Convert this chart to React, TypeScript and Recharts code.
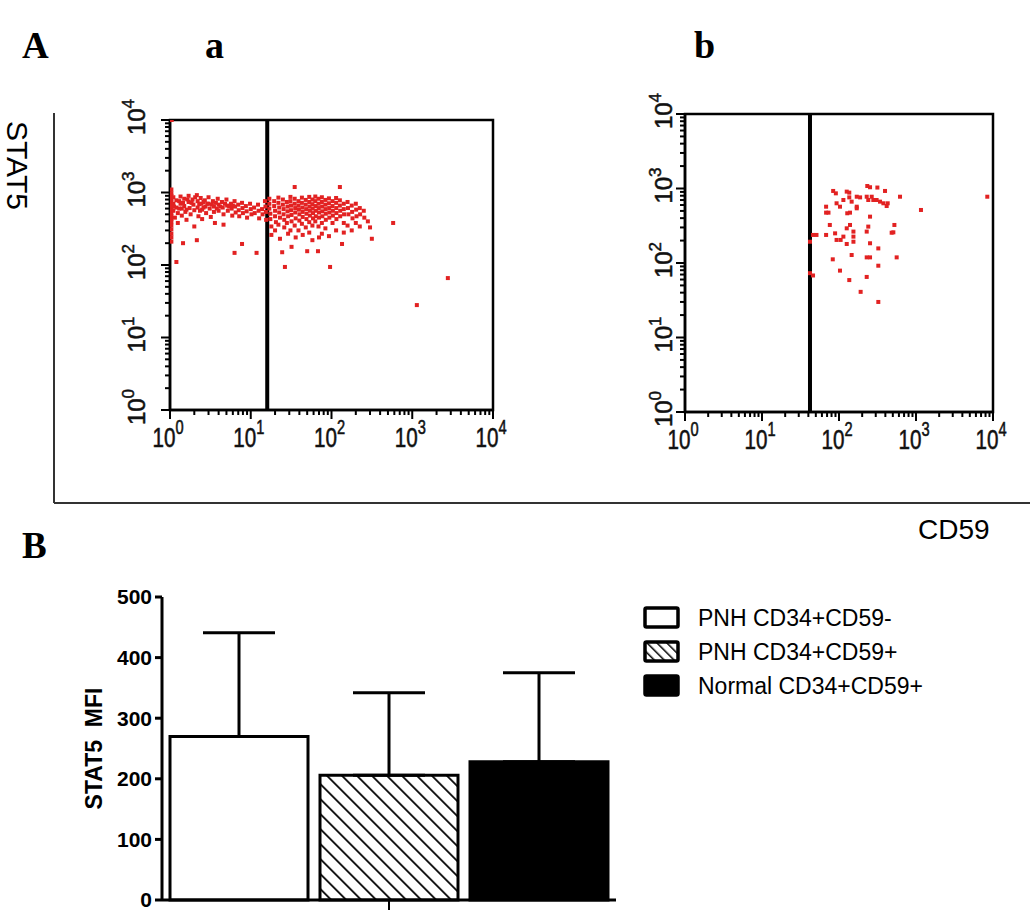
import React from 'react';
import {
  ScatterChart,
  Scatter,
  XAxis,
  YAxis,
  ReferenceLine,
  ReferenceArea,
  BarChart,
  Bar,
  ErrorBar,
  Legend,
  Label,
} from 'recharts';

const RED = '#e22222';
const SANS = '"Liberation Sans", Arial, Helvetica, sans-serif';
const SERIF = '"Liberation Serif", "Times New Roman", serif';

// log axes run 10^0 .. 10^4, minor ticks at 2..9 of every decade
const logTicks = [
  1, 2, 3, 4, 5, 6, 7, 8, 9,
  10, 20, 30, 40, 50, 60, 70, 80, 90,
  100, 200, 300, 400, 500, 600, 700, 800, 900,
  1000, 2000, 3000, 4000, 5000, 6000, 7000, 8000, 9000,
  10000,
];
const decadeTicks = [1, 10, 100, 1000, 10000];
const decadeExponents = ['0', '1', '2', '3', '4'];

// CD59 gate positions
const gateA = 16;
const gateB = 42;

// panel a: [CD59, STAT5]
const cellsA: [number, number][] = [
  [1.04, 1100], [1.04, 980], [1.04, 900], [1.04, 820], [1.04, 750], [1.04, 690], [1.04, 630],
  [1.04, 570], [1.04, 520], [1.04, 470], [1.04, 430], [1.04, 390], [1.04, 350], [1.04, 310],
  [1.04, 270], [1.04, 240], [1.04, 210],
  [1.1, 860], [1.1, 700], [1.1, 560], [1.15, 450], [1.2, 780], [1.2, 620], [1.25, 520], [1.25, 380],
  [1.35, 880], [1.35, 700], [1.4, 600], [1.4, 480], [1.5, 820], [1.5, 650], [1.55, 540], [1.6, 420],
  [1.7, 900], [1.7, 740], [1.75, 610], [1.8, 500], [1.9, 800], [1.95, 680], [2.0, 570], [2.0, 340],
  [2.15, 920], [2.2, 760], [2.2, 620], [2.25, 470], [2.4, 840], [2.45, 700], [2.5, 580], [2.5, 430],
  [2.7, 780], [2.75, 640], [2.8, 520], [3.0, 860], [3.0, 700], [3.1, 600], [3.2, 460],
  [3.4, 760], [3.5, 640], [3.5, 540], [3.6, 380], [3.9, 820], [4.0, 680], [4.0, 560],
  [4.4, 740], [4.5, 620], [4.6, 500], [4.6, 360], [5.0, 800], [5.1, 660], [5.2, 560],
  [5.7, 700], [5.8, 600], [5.9, 480], [6.3, 760], [6.4, 640], [6.5, 530],
  [7.0, 680], [7.1, 570], [7.2, 470], [7.8, 720], [7.9, 610], [8.0, 520],
  [8.7, 650], [8.9, 550], [9.0, 450], [9.8, 700], [10, 590], [10.2, 500],
  [11, 620], [11.2, 520], [12.3, 680], [12.5, 560], [12.7, 440], [13.8, 590], [14, 500],
  [15, 760], [15.2, 640], [15.4, 540], [15.5, 420],
  [1.12, 640], [1.3, 760], [1.45, 720], [1.65, 800], [1.85, 720], [2.05, 860], [2.3, 690],
  [2.6, 740], [2.9, 700], [3.3, 680], [3.7, 720], [4.2, 640], [4.8, 700], [5.4, 640],
  [6.0, 660], [2.6, 620], [1.3, 600], [1.6, 580], [3.8, 600], [2.35, 560],
  [17, 820], [17, 700], [17, 600], [17.5, 510], [17.5, 430], [18, 340], [18, 260],
  [19.5, 760], [19.5, 650], [20, 560], [20, 470], [20.5, 390], [20, 300],
  [22, 850], [22, 720], [22.5, 620], [22.5, 530], [23, 450], [22, 360], [23, 230],
  [25, 800], [25, 680], [25.5, 590], [25.5, 500], [26, 420], [26, 330], [24.5, 150], [26.5, 94],
  [28, 740], [28.5, 640], [28.5, 550], [29, 470], [28, 380], [29, 270],
  [31, 870], [31, 760], [31.5, 660], [31.5, 570], [32, 490], [32, 400], [32, 178], [31, 300],
  [35, 1190], [35, 820], [35, 700], [35.5, 610], [35.5, 530], [36, 440], [35, 350], [36, 240],
  [39, 760], [39, 660], [39.5, 580], [40, 500], [40, 410], [39, 300],
  [43, 850], [43, 720], [43.5, 620], [44, 540], [44, 460], [43, 370], [44, 260],
  [48, 790], [48, 680], [48.5, 590], [49, 510], [49, 430], [48, 330], [50, 155],
  [53, 870], [53, 740], [53.5, 640], [54, 560], [54, 480], [53, 390], [53, 280],
  [58, 800], [58, 690], [58.5, 600], [59, 520], [59, 440], [58, 350], [58, 220],
  [63, 880], [63, 760], [63.5, 650], [64, 560], [64, 470], [63, 400], [68, 155],
  [69, 820], [69, 700], [69.5, 610], [70, 530], [70, 450], [69, 340], [70, 240],
  [76, 860], [76, 740], [76.5, 640], [77, 550], [77, 470], [76, 380], [76, 270],
  [84, 790], [84, 680], [84.5, 590], [85, 510], [85, 420], [84, 320],
  [93, 830], [93, 710], [93.5, 610], [94, 530], [94, 450], [96, 94], [93, 250],
  [103, 760], [103, 650], [104, 560], [104, 480], [103, 380],
  [114, 840], [114, 720], [114.5, 610], [115, 520], [115, 430], [114, 300],
  [127, 1190], [127, 780], [127, 660], [128, 560], [128, 470], [135, 195],
  [142, 700], [142, 590], [143, 500], [142, 380], [142, 280],
  [158, 740], [160, 610], [162, 500], [158, 350],
  [178, 660], [180, 540], [182, 440], [178, 300],
  [200, 700], [202, 580], [204, 470], [200, 380],
  [224, 610], [226, 500], [224, 340],
  [251, 560], [255, 450], [316, 230], [282, 400], [300, 330],
  [1.2, 110], [1.45, 200], [2.15, 220], [6.3, 147], [7.8, 195], [11.8, 147],
  [580, 380], [1140, 28], [2760, 66], [1.05, 10000],
];

// panel b: [CD59, STAT5]
const cellsB: [number, number][] = [
  [84, 927], [91, 861], [126, 908], [136, 880], [233, 1080], [253, 1040], [315, 1030], [396, 927],
  [620, 776], [229, 776], [266, 776], [170, 776], [188, 760], [136, 760], [114, 701], [146, 666],
  [93, 633], [103, 570], [170, 570], [240, 701], [279, 701], [308, 701], [341, 666], [377, 633],
  [416, 582], [429, 633], [68, 570], [68, 474], [73, 474], [128, 465], [139, 474], [170, 542],
  [1160, 515], [8430, 776],
  [76, 324], [139, 324], [253, 419], [524, 324], [240, 308], [229, 264], [126, 292], [154, 264],
  [154, 226], [114, 226], [89, 250], [68, 238], [46, 238], [51, 238], [508, 258], [483, 255],
  [93, 204], [105, 204], [154, 193], [126, 180], [253, 184], [324, 157], [42, 193],
  [146, 128], [83, 112], [229, 119], [253, 119], [561, 119], [324, 92], [103, 79], [46, 68],
  [42, 73], [229, 65], [136, 59], [191, 41], [324, 30],
];

// panel B
const groups = ['PNH CD34+CD59-', 'PNH CD34+CD59+', 'Normal CD34+CD59+'];
const meanMfi = [270, 206, 228];
const sdMfi = [171, 136, 147];
const mfiTicks = [0, 100, 200, 300, 400, 500];

const barFills = ['#ffffff', 'url(#hatchBar)', '#000000'];

const toPoints = (cells: [number, number][]) => cells.map(([x, y]) => ({ x, y }));

const barRow: Record<string, any> = { name: 'STAT5' };
groups.forEach((g, i) => {
  barRow[`m${i}`] = meanMfi[i];
  barRow[`e${i}`] = [0, sdMfi[i]];
});
const barData = [barRow];

function LogXTick(props: any) {
  const { x, y, payload } = props;
  const idx = decadeTicks.indexOf(payload.value);
  const major = idx >= 0;
  return (
    <g>
      <line x1={x} x2={x} y1={y} y2={y + (major ? 9 : 5)} stroke="#000" strokeWidth={2} />
      {major && (
        <text
          transform={`translate(${x - 2},${y + 37}) scale(0.86,1.18)`}
          textAnchor="middle"
          fontSize={24}
          fontFamily={SANS}
          fill="#111"
          stroke="#111"
          strokeWidth={0.5}
        >
          10
          <tspan dy={-11} fontSize={17}>
            {decadeExponents[idx]}
          </tspan>
        </text>
      )}
    </g>
  );
}

function LogYTick(props: any) {
  const { x, y, payload, gap } = props;
  const idx = decadeTicks.indexOf(payload.value);
  const major = idx >= 0;
  return (
    <g>
      <line x1={x} x2={x - (major ? 9 : 5)} y1={y} y2={y} stroke="#000" strokeWidth={2} />
      {major && (
        <text
          transform={`translate(${x - gap},${y - 3}) rotate(-90)`}
          textAnchor="middle"
          fontSize={24}
          fontFamily={SANS}
          fill="#111"
          stroke="#111"
          strokeWidth={0.5}
        >
          10
          <tspan dy={-11} fontSize={17}>
            {decadeExponents[idx]}
          </tspan>
        </text>
      )}
    </g>
  );
}

const CellDot = (p: any) => <rect x={p.cx - 2} y={p.cy - 2} width={4} height={4} fill={RED} />;

function FlowPlot({ cells, gate, margin, labelGap }: any) {
  return (
    <ScatterChart width={410} height={380} margin={margin}>
      <ReferenceArea x1={1} x2={10000} y1={1} y2={10000} fill="none" stroke="#000" strokeWidth={2.5} ifOverflow="visible" />
      <XAxis
        type="number"
        dataKey="x"
        scale="log"
        domain={[1, 10000]}
        ticks={logTicks}
        interval={0}
        height={40}
        tickSize={0}
        tickMargin={0}
        tickLine={false}
        axisLine={{ stroke: '#000', strokeWidth: 2.5 }}
        tick={<LogXTick />}
        allowDataOverflow
      />
      <YAxis
        type="number"
        dataKey="y"
        scale="log"
        domain={[1, 10000]}
        ticks={logTicks}
        interval={0}
        width={70}
        tickSize={0}
        tickMargin={0}
        tickLine={false}
        axisLine={{ stroke: '#000', strokeWidth: 2.5 }}
        tick={<LogYTick gap={labelGap} />}
        allowDataOverflow
      />
      <ReferenceLine x={gate} stroke="#000" strokeWidth={4} />
      <Scatter data={toPoints(cells)} shape={CellDot} isAnimationActive={false} />
    </ScatterChart>
  );
}

function GroupLegend() {
  return (
    <div>
      {groups.map((g, i) => (
        <div key={g} style={{ display: 'flex', alignItems: 'center', height: 34 }}>
          <svg width={38} height={24}>
            <defs>
              <pattern id={`hatchKey${i}`} patternUnits="userSpaceOnUse" width={7} height={7} patternTransform="rotate(-45)">
                <rect width={7} height={7} fill="#fff" />
                <line x1={0} y1={0} x2={0} y2={7} stroke="#000" strokeWidth={3} />
              </pattern>
            </defs>
            <rect
              x={2}
              y={2}
              width={33}
              height={19}
              fill={i === 1 ? `url(#hatchKey${i})` : barFills[i]}
              stroke="#000"
              strokeWidth={3.5}
              rx={1.5}
            />
          </svg>
          <span style={{ marginLeft: 17, fontFamily: SANS, fontSize: 23, color: '#000' }}>{g}</span>
        </div>
      ))}
    </div>
  );
}

const MfiLabel = (props: any) => {
  const { viewBox } = props;
  return (
    <text
      transform={`translate(${viewBox.x + 42},${viewBox.y + viewBox.height / 2}) rotate(-90)`}
      textAnchor="middle"
      fontSize={23}
      fontWeight="bold"
      fontFamily={SANS}
      fill="#000"
    >
      {'STAT5\u00a0\u00a0MFI'}
    </text>
  );
};

export default function App() {
  return (
    <div style={{ position: 'absolute', left: 0, top: 0, width: 1033, height: 917, overflow: 'hidden', background: '#fff' }}>
      <svg width={1033} height={917} style={{ position: 'absolute', left: 0, top: 0 }}>
        <text x={22} y={58} fontFamily={SERIF} fontWeight="bold" fontSize={37}>A</text>
        <text x={205} y={58} fontFamily={SERIF} fontWeight="bold" fontSize={38}>a</text>
        <text x={694} y={58} fontFamily={SERIF} fontWeight="bold" fontSize={38}>b</text>
        <text x={22} y={558} fontFamily={SERIF} fontWeight="bold" fontSize={37}>B</text>
        <text transform="translate(7,121) rotate(90)" fontFamily={SANS} fontSize={30}>STAT5</text>
        <text x={918} y={539} fontFamily={SANS} fontSize={28}>CD59</text>
        <line x1={54} y1={113} x2={54} y2={503} stroke="#333" strokeWidth={2} />
        <line x1={54} y1={503} x2={1030} y2={503} stroke="#333" strokeWidth={2} />
      </svg>

      <div style={{ position: 'absolute', left: 100, top: 90 }}>
        <FlowPlot cells={cellsA} gate={gateA} margin={{ top: 30, right: 17, bottom: 20, left: 0 }} labelGap={25} />
      </div>
      <div style={{ position: 'absolute', left: 615, top: 84 }}>
        <FlowPlot cells={cellsB} gate={gateB} margin={{ top: 30, right: 32, bottom: 12, left: 0 }} labelGap={13} />
      </div>

      <div style={{ position: 'absolute', left: 60, top: 570 }}>
        <BarChart
          width={580}
          height={347}
          data={barData}
          margin={{ top: 27, right: 24, bottom: 2, left: 0 }}
          barCategoryGap={8}
          barGap={12}
        >
          <defs>
            <pattern id="hatchBar" patternUnits="userSpaceOnUse" width={10.6} height={10.6} patternTransform="rotate(-45)">
              <rect width={10.6} height={10.6} fill="#fff" />
              <line x1={0} y1={0} x2={0} y2={10.6} stroke="#000" strokeWidth={3.5} />
            </pattern>
          </defs>
          <XAxis
            dataKey="name"
            height={15}
            axisLine={{ stroke: '#000', strokeWidth: 3 }}
            tickLine={{ stroke: '#000', strokeWidth: 2 }}
            tickSize={10}
            tickFormatter={() => ''}
          />
          <YAxis
            domain={[0, 500]}
            ticks={mfiTicks}
            interval={0}
            width={102}
            axisLine={{ stroke: '#000', strokeWidth: 3 }}
            tickLine={{ stroke: '#000', strokeWidth: 3 }}
            tickSize={7}
            tickMargin={3}
            tick={{ fill: '#000', fontSize: 21, fontWeight: 'bold', fontFamily: SANS }}
          >
            <Label content={<MfiLabel />} />
          </YAxis>
          <Legend
            layout="vertical"
            align="center"
            verticalAlign="middle"
            content={<GroupLegend />}
            wrapperStyle={{ left: 583, top: 31, width: 320 }}
          />
          {groups.map((g, i) => (
            <Bar
              key={g}
              dataKey={`m${i}`}
              name={g}
              fill={barFills[i]}
              stroke="#000"
              strokeWidth={3}
              isAnimationActive={false}
            >
              <ErrorBar dataKey={`e${i}`} width={36} stroke="#000" strokeWidth={3} direction="y" isAnimationActive={false} />
            </Bar>
          ))}
        </BarChart>
      </div>
    </div>
  );
}
